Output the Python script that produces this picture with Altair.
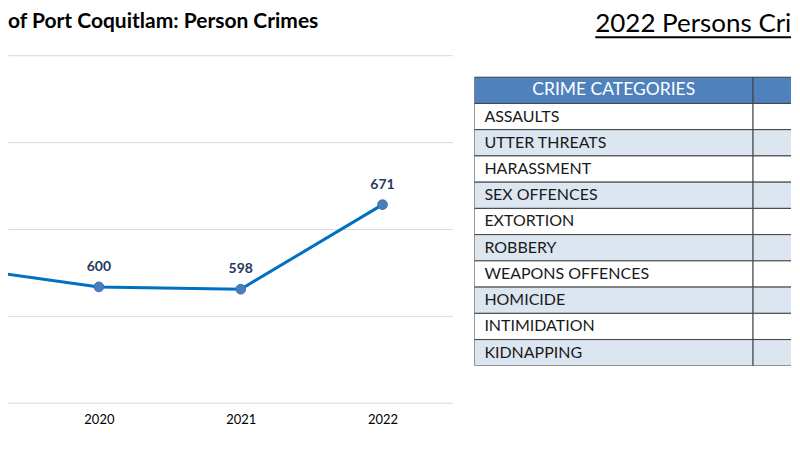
import altair as alt
import pandas as pd

# ---- data ----
years = [2019, 2020, 2021, 2022]
person_crimes = [617, 600, 598, 671]

categories = ["CRIME CATEGORIES", "ASSAULTS", "UTTER THREATS", "HARASSMENT",
              "SEX OFFENCES", "EXTORTION", "ROBBERY", "WEAPONS OFFENCES",
              "HOMICIDE", "INTIMIDATION", "KIDNAPPING"]
table_columns = ["CRIME CATEGORIES", "COUNT"]
column_widths = [279, 279]

left_title = ["of Port Coquitlam: Person Crimes"]
right_title = ["2022 Persons Cri"]

FONT = "Lato"

# ---- line chart ----
line_df = pd.DataFrame({"year": years, "count": person_crimes})
xs = alt.Scale(domain=[2019.359, 2022.493], nice=False, zero=False)
ys = alt.Scale(domain=[500, 800], nice=False, zero=False)

base = alt.Chart(line_df).encode(
    x=alt.X("year:Q", scale=xs,
            axis=alt.Axis(values=[2020, 2021, 2022], format="d", title=None,
                          grid=False, ticks=False, domain=False,
                          labelFont=FONT, labelFontSize=13, labelColor="#000000",
                          labelPadding=11)),
    y=alt.Y("count:Q", scale=ys,
            axis=alt.Axis(values=[500, 575, 650, 725, 800], labels=False, ticks=False,
                          domain=False, title=None, grid=True,
                          gridColor="#d9d9d9", gridWidth=1)),
)
line = base.mark_line(color="#0070C0", strokeWidth=3, clip=True)
pts = base.mark_circle(size=95, color="#4A7EBB", opacity=1, stroke="#3A70B5",
                       strokeWidth=1, clip=True)
labels = base.mark_text(dy=-20, font=FONT, fontSize=14, fontWeight="bold",
                        color="#1F3864", clip=True).encode(text="count:Q")

ltitle = alt.Chart(pd.DataFrame({"t": left_title})).mark_text(
    align="left", baseline="alphabetic", font=FONT, fontSize=21, fontWeight="bold",
    color="#000000"
).encode(x=alt.value(0), y=alt.value(-27), text="t:N")

left = alt.layer(line, pts, labels, ltitle).properties(width=445, height=348)

# ---- table ----
rows = []
for i, cat in enumerate(categories):
    x0 = 0
    for j, col in enumerate(table_columns):
        w = column_widths[j]
        if i == 0:
            fill = "header"
        elif i % 2 == 1:
            fill = "white"
        else:
            fill = "light"
        rows.append({"row": cat, "col": col, "x0": x0, "x1": x0 + w,
                     "mid": x0 + w / 2, "fill": fill,
                     "text": cat if j == 0 else "", "order": i})
        x0 += w
tdf = pd.DataFrame(rows)

tx = alt.Scale(domain=[0, 317], nice=False, zero=False)
ty = alt.Scale(domain=categories, paddingInner=0, paddingOuter=0.419, align=1)
tbase = alt.Chart(tdf).encode(
    y=alt.Y("row:N", scale=ty, sort=categories, axis=None)
)
cells = tbase.mark_rect(stroke="#404040", strokeWidth=1, clip=True).encode(
    x=alt.X("x0:Q", scale=tx, axis=None),
    x2="x1:Q",
    fill=alt.Fill("fill:N", scale=alt.Scale(domain=["header", "white", "light"],
                                            range=["#4F81BD", "#FFFFFF", "#DCE6F1"]),
                  legend=None),
)
body_text = tbase.transform_filter("datum.order > 0 && datum.text != ''").mark_text(
    align="left", dx=10, font=FONT, fontSize=16, color="#1a1a1a", clip=True
).encode(x=alt.X("x0:Q", scale=tx, axis=None), text="text:N")
head_text = tbase.transform_filter("datum.order == 0 && datum.text != ''").mark_text(
    align="center", font=FONT, fontSize=17.5, color="#FFFFFF", clip=True
).encode(x=alt.X("mid:Q", scale=tx, axis=None), text="text:N")

rtitle = alt.Chart(pd.DataFrame({"t": right_title})).mark_text(
    align="left", baseline="alphabetic", font=FONT, fontSize=26, color="#000000"
).encode(x=alt.value(121), y=alt.value(-23), text="t:N")

underline = alt.Chart(pd.DataFrame({"a": [0]})).mark_rule(
    color="#000000", strokeWidth=2
).encode(x=alt.value(121), x2=alt.value(317), y=alt.value(-18))

right = alt.layer(cells, body_text, head_text, rtitle, underline).properties(
    width=317, height=311,
)

chart = alt.hconcat(left, right, spacing=22).properties(
    padding={"left": 0, "top": 3, "right": 0, "bottom": 0}, background="#FFFFFF"
).configure_view(stroke=None)

chart.save("out.html", embed_options={"renderer": "svg", "actions": False})
